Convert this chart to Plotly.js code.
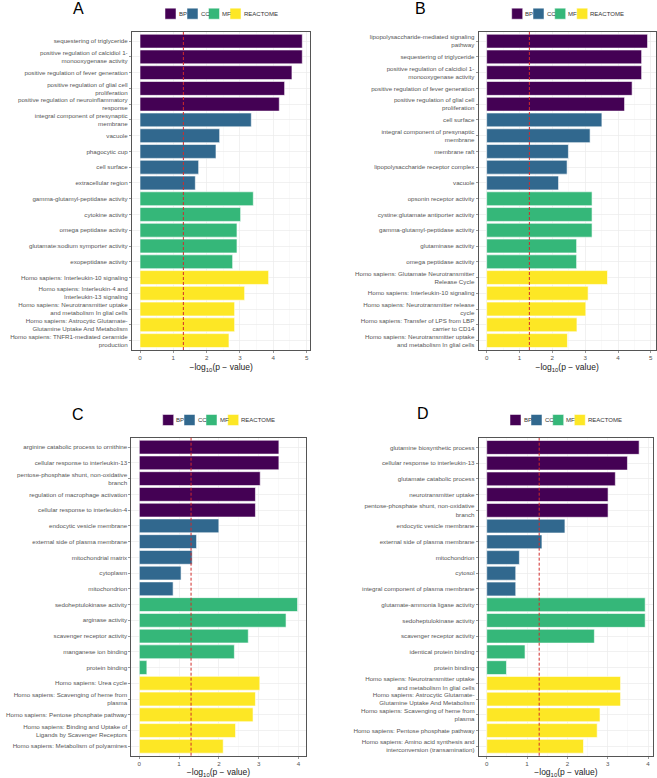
<!DOCTYPE html>
<html><head><meta charset="utf-8">
<script src="https://cdn.plot.ly/plotly-3.0.1.min.js"></script>
<style>html,body{margin:0;padding:0;background:#fff}#chart{width:657px;height:778px}</style>
</head><body><div id="chart"></div>
<script>
const groupNames = ["BP", "CC", "MF", "REACTOME"];
const groupColors = ["#440154", "#31688E", "#35B779", "#FDE725"];
const threshold = 1.30103; // -log10(0.05)

const termsA = [
  "sequestering of triglyceride",
  "positive regulation of calcidiol 1-<br>monooxygenase activity",
  "positive regulation of fever generation",
  "positive regulation of glial cell<br>proliferation",
  "positive regulation of neuroinflammatory<br>response",
  "integral component of presynaptic<br>membrane",
  "vacuole",
  "phagocytic cup",
  "cell surface",
  "extracellular region",
  "gamma-glutamyl-peptidase activity",
  "cytokine activity",
  "omega peptidase activity",
  "glutamate:sodium symporter activity",
  "exopeptidase activity",
  "Homo sapiens: Interleukin-10 signaling",
  "Homo sapiens: Interleukin-4 and<br>Interleukin-13 signaling",
  "Homo sapiens: Neurotransmitter uptake<br>and metabolism In glial cells",
  "Homo sapiens: Astrocytic Glutamate-<br>Glutamine Uptake And Metabolism",
  "Homo sapiens: TNFR1-mediated ceramide<br>production"
];
const valuesA = [4.87, 4.87, 4.56, 4.34, 4.18, 3.34, 2.39, 2.28, 1.76, 1.66,
                 3.40, 3.02, 2.91, 2.91, 2.78, 3.86, 3.14, 2.84, 2.84, 2.67];
const groupsA = ["BP","BP","BP","BP","BP","CC","CC","CC","CC","CC",
                 "MF","MF","MF","MF","MF","REACTOME","REACTOME","REACTOME","REACTOME","REACTOME"];

const termsB = [
  "lipopolysaccharide-mediated signaling<br>pathway",
  "sequestering of triglyceride",
  "positive regulation of calcidiol 1-<br>monooxygenase activity",
  "positive regulation of fever generation",
  "positive regulation of glial cell<br>proliferation",
  "cell surface",
  "integral component of presynaptic<br>membrane",
  "membrane raft",
  "lipopolysaccharide receptor complex",
  "vacuole",
  "opsonin receptor activity",
  "cystine:glutamate antiporter activity",
  "gamma-glutamyl-peptidase activity",
  "glutaminase activity",
  "omega peptidase activity",
  "Homo sapiens: Glutamate Neurotransmitter<br>Release Cycle",
  "Homo sapiens: Interleukin-10 signaling",
  "Homo sapiens: Neurotransmitter release<br>cycle",
  "Homo sapiens: Transfer of LPS from LBP<br>carrier to CD14",
  "Homo sapiens: Neurotransmitter uptake<br>and metabolism In glial cells"
];
const valuesB = [4.90, 4.72, 4.72, 4.43, 4.20, 3.51, 3.15, 2.49, 2.45, 2.19,
                 3.21, 3.21, 3.21, 2.74, 2.74, 3.68, 3.09, 3.02, 2.75, 2.46];
const groupsB = groupsA.slice();

const termsC = [
  "arginine catabolic process to ornithine",
  "cellular response to interleukin-13",
  "pentose-phosphate shunt, non-oxidative<br>branch",
  "regulation of macrophage activation",
  "cellular response to interleukin-4",
  "endocytic vesicle membrane",
  "external side of plasma membrane",
  "mitochondrial matrix",
  "cytoplasm",
  "mitochondrion",
  "sedoheptulokinase activity",
  "arginase activity",
  "scavenger receptor activity",
  "manganese ion binding",
  "protein binding",
  "Homo sapiens: Urea cycle",
  "Homo sapiens: Scavenging of heme from<br>plasma",
  "Homo sapiens: Pentose phosphate pathway",
  "Homo sapiens: Binding and Uptake of<br>Ligands by Scavenger Receptors",
  "Homo sapiens: Metabolism of polyamines"
];
const valuesC = [3.51, 3.51, 3.04, 2.92, 2.92, 2.00, 1.44, 1.33, 1.05, 0.85,
                 3.98, 3.69, 2.74, 2.39, 0.19, 3.03, 2.92, 2.86, 2.42, 2.11];
const groupsC = groupsA.slice();

const termsD = [
  "glutamine biosynthetic process",
  "cellular response to interleukin-13",
  "glutamate catabolic process",
  "neurotransmitter uptake",
  "pentose-phosphate shunt, non-oxidative<br>branch",
  "endocytic vesicle membrane",
  "external side of plasma membrane",
  "mitochondrion",
  "cytosol",
  "integral component of plasma membrane",
  "glutamate-ammonia ligase activity",
  "sedoheptulokinase activity",
  "scavenger receptor activity",
  "identical protein binding",
  "protein binding",
  "Homo sapiens: Neurotransmitter uptake<br>and metabolism In glial cells",
  "Homo sapiens: Astrocytic Glutamate-<br>Glutamine Uptake And Metabolism",
  "Homo sapiens: Scavenging of heme from<br>plasma",
  "Homo sapiens: Pentose phosphate pathway",
  "Homo sapiens: Amino acid synthesis and<br>interconversion (transamination)"
];
const valuesD = [3.78, 3.49, 3.19, 3.01, 3.01, 1.94, 1.37, 0.81, 0.72, 0.72,
                 3.93, 3.93, 2.67, 0.95, 0.49, 3.32, 3.32, 2.81, 2.74, 2.40];
const groupsD = groupsA.slice();

const panelLetters = ["A", "B", "C", "D"];

// ---- layout geometry (pixels) ----
const W = 657, H = 778;
const px = v => v / W;
const py = v => 1 - v / H;

const panels = [
  {terms: termsA, values: valuesA, groups: groupsA, xd: [131.9, 310.4], yd: [31.7, 350], range: [-0.2435, 5.1135],
   letter: [78, 9], legendX: [165, 187, 208.5, 230], legendY: 13.7},
  {terms: termsB, values: valuesB, groups: groupsB, xd: [478.6, 655.6], yd: [31.7, 350], range: [-0.245, 5.145],
   letter: [420.5, 8.5], legendX: [511.7, 533, 554.7, 576.7], legendY: 13.7},
  {terms: termsC, values: valuesC, groups: groupsC, xd: [131.4, 305.5], yd: [437.7, 755.7], range: [-0.199, 4.179],
   letter: [77.5, 414.5], legendX: [162.7, 184, 206, 227.7], legendY: 420},
  {terms: termsD, values: valuesD, groups: groupsD, xd: [478.8, 653.1], yd: [438, 755.7], range: [-0.1965, 4.1265],
   letter: [422.5, 413.7], legendX: [510, 531, 552.7, 574.3], legendY: 420}
];

const traces = [];
const layout = {
  width: W, height: H,
  margin: {l: 0, r: 0, t: 0, b: 0},
  paper_bgcolor: "#fff", plot_bgcolor: "#fff",
  font: {family: "Liberation Sans, Arial, sans-serif", color: "#555"},
  showlegend: false,
  barmode: "overlay",
  bargap: 0.12,
  shapes: [],
  annotations: []
};

panels.forEach((p, i) => {
  const sfx = i === 0 ? "" : String(i + 1);
  const xa = "x" + sfx, ya = "y" + sfx;
  groupNames.forEach((g, gi) => {
    const ys = [], xs = [];
    p.terms.forEach((t, k) => { if (p.groups[k] === g) { ys.push(t); xs.push(p.values[k]); } });
    traces.push({
      type: "bar", orientation: "h", x: xs, y: ys, name: g,
      xaxis: xa, yaxis: ya,
      marker: {color: groupColors[gi], line: {color: "#ffffff", width: 0.6}},
      hoverinfo: "x+y"
    });
  });
  layout["xaxis" + sfx] = {
    domain: [px(p.xd[0]), px(p.xd[1])], anchor: ya, range: p.range,
    tick0: 0, dtick: 1, showgrid: true, gridcolor: "#ebebeb", gridwidth: 0.7,
    minor: {dtick: 0.5, tick0: 0, showgrid: true, gridcolor: "#f3f3f3", gridwidth: 0.5},
    zeroline: false, showline: true, mirror: true, linecolor: "#555", linewidth: 1,
    ticks: "outside", ticklen: 2, tickcolor: "#555", tickwidth: 0.6,
    tickfont: {size: 6.2, color: "#555"},
    title: {text: "\u2212log<sub>10</sub>(p \u2212 value)", font: {size: 8.5, color: "#222"}, standoff: 3},
    fixedrange: true
  };
  layout["yaxis" + sfx] = {
    domain: [py(p.yd[1]), py(p.yd[0])], anchor: xa, type: "category",
    categoryorder: "array", categoryarray: p.terms,
    range: [p.terms.length - 0.4, -0.6],
    showgrid: true, gridcolor: "#ebebeb", gridwidth: 0.7,
    zeroline: false, showline: true, mirror: true, linecolor: "#555", linewidth: 1,
    ticks: "outside", ticklen: 2, tickcolor: "#555", tickwidth: 0.6,
    tickfont: {size: 6.2, color: "#555"},
    fixedrange: true
  };
  layout.shapes.push({
    type: "line", xref: xa, yref: ya + " domain", x0: threshold, x1: threshold, y0: 0, y1: 1,
    line: {color: "#d22b2b", width: 1, dash: "3px,2px"}, layer: "above"
  });
  layout.annotations.push({
    text: panelLetters[i], xref: "paper", yref: "paper", x: px(p.letter[0]), y: py(p.letter[1]),
    xanchor: "center", yanchor: "middle", showarrow: false,
    font: {size: 16, color: "#000", family: "Liberation Sans, Arial, sans-serif"}
  });
  // legend
  groupNames.forEach((g, gi) => {
    const x0 = p.legendX[gi];
    layout.shapes.push({
      type: "rect", xref: "paper", yref: "paper",
      x0: px(x0), x1: px(x0 + 11), y0: py(p.legendY + 5.5), y1: py(p.legendY - 5.5),
      fillcolor: groupColors[gi], line: {color: "#fff", width: 0.5}, layer: "above"
    });
    layout.annotations.push({
      text: g, xref: "paper", yref: "paper", x: px(x0 + 11.5), y: py(p.legendY),
      xanchor: "left", yanchor: "middle", showarrow: false,
      font: {size: 6, color: "#333"}
    });
  });
});

Plotly.newPlot("chart", traces, layout, {displayModeBar: false, staticPlot: true});
</script>
</body></html>
